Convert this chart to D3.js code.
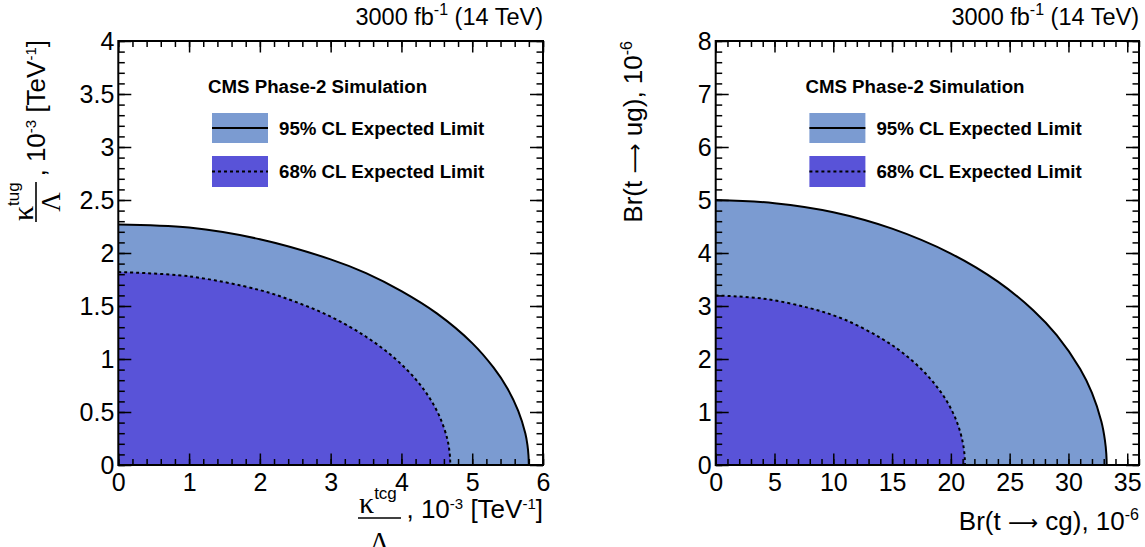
<!DOCTYPE html>
<html><head><meta charset="utf-8">
<script src="https://cdn.jsdelivr.net/npm/d3@7"></script>
<style>
body{margin:0;background:#fff}
text{font-family:"Liberation Sans",Arial,Helvetica,sans-serif;fill:#000}
.greek{font-family:"Liberation Serif","Times New Roman",serif}
.arrow{font-family:"DejaVu Sans",sans-serif}
</style>
</head><body><svg id="c" width="1145" height="547" xmlns="http://www.w3.org/2000/svg"></svg>
<script>
// ---------- data ----------
const leftXTicks = [0, 1, 2, 3, 4, 5, 6];
const leftYTicks = [0, 0.5, 1, 1.5, 2, 2.5, 3, 3.5, 4];
const rightXTicks = [0, 5, 10, 15, 20, 25, 30, 35];
const rightYTicks = [0, 1, 2, 3, 4, 5, 6, 7, 8];

// left panel: kappa_tcg/Lambda vs kappa_tug/Lambda (10^-3 TeV^-1)
const leftOuterX = [0, 1, 2, 3, 3.5, 4, 4.5, 5, 5.3, 5.5, 5.65, 5.75, 5.78, 5.795, 5.8];
const leftOuterY = [2.27, 2.24, 2.13, 1.94, 1.81, 1.64, 1.43, 1.15, 0.92, 0.72, 0.51, 0.30, 0.19, 0.09, 0];
const leftInnerX = [0, 1, 2, 2.5, 3, 3.5, 3.9, 4.2, 4.4, 4.55, 4.65, 4.68, 4.688, 4.69];
const leftInnerY = [1.82, 1.78, 1.65, 1.54, 1.40, 1.21, 1.01, 0.81, 0.63, 0.44, 0.24, 0.12, 0.05, 0];

// right panel: Br(t->cg) vs Br(t->ug) (10^-6)
const rightOuterX = [0, 5, 10, 15, 20, 24, 27, 29, 31, 32, 32.8, 33.1, 33.22, 33.25];
const rightOuterY = [5.0, 4.94, 4.77, 4.46, 3.99, 3.46, 2.92, 2.45, 1.81, 1.36, 0.82, 0.47, 0.21, 0];
const rightInnerX = [0, 4, 8, 11, 14, 16, 18, 19.5, 20.5, 21, 21.15, 21.19, 21.2];
const rightInnerY = [3.2, 3.14, 2.96, 2.74, 2.40, 2.10, 1.69, 1.26, 0.82, 0.44, 0.22, 0.10, 0];

const legendTitle = "CMS Phase-2 Simulation";
const legendLabels = ["95% CL Expected Limit", "68% CL Expected Limit"];
const color95 = "#7b9bd1";
const color68 = "#5953d8";

// ---------- drawing ----------
const svg = d3.select("#c");
const fmt = d3.format("~g");

function panel(cfg) {
  const x = d3.scaleLinear().domain(cfg.xDomain).range([cfg.left, cfg.right]);
  const y = d3.scaleLinear().domain(cfg.yDomain).range([cfg.bottom, cfg.top]);
  const g = svg.append("g");

  const area = d3.area().x(d => x(d[0])).y0(y(0)).y1(d => y(d[1])).curve(d3.curveCatmullRom.alpha(0.5));
  const line = d3.line().x(d => x(d[0])).y(d => y(d[1])).curve(d3.curveCatmullRom.alpha(0.5));
  const outer = cfg.outerX.map((v, i) => [v, cfg.outerY[i]]);
  const inner = cfg.innerX.map((v, i) => [v, cfg.innerY[i]]);

  g.append("path").attr("d", area(outer)).attr("fill", color95);
  g.append("path").attr("d", area(inner)).attr("fill", color68);
  g.append("path").attr("d", line(inner)).attr("fill", "none").attr("stroke", "#000")
    .attr("stroke-width", 2).attr("stroke-dasharray", "3,3");
  g.append("path").attr("d", line(outer)).attr("fill", "none").attr("stroke", "#000")
    .attr("stroke-width", 2);

  const xMinor = d3.range(cfg.xDomain[0], cfg.xDomain[1] + 1e-9, cfg.xMinorStep);
  const yMinor = d3.range(cfg.yDomain[0], cfg.yDomain[1] + 1e-9, cfg.yMinorStep);

  function ax(axisFn, scale, vals, size, labels, transform, pad) {
    const a = axisFn(scale).tickValues(vals).tickSize(-size).tickPadding(pad || 0)
      .tickFormat(labels ? fmt : "");
    const ag = g.append("g").attr("transform", transform).call(a);
    ag.select(".domain").remove();
    ag.selectAll(".tick line").attr("stroke", "#000").attr("stroke-width", 1.5);
    ag.selectAll("text").attr("font-family", null).style("font-size", "25px").attr("fill", "#000");
    return ag;
  }
  ax(d3.axisBottom, x, xMinor, 6, false, `translate(0,${cfg.bottom})`);
  ax(d3.axisBottom, x, cfg.xTicks, 11.5, true, `translate(0,${cfg.bottom})`, 8.5);
  ax(d3.axisTop, x, xMinor, 6, false, `translate(0,${cfg.top})`);
  ax(d3.axisTop, x, cfg.xTicks, 11.5, false, `translate(0,${cfg.top})`);
  ax(d3.axisLeft, y, yMinor, 6.5, false, `translate(${cfg.left},0)`);
  ax(d3.axisLeft, y, cfg.yTicks, 13, true, `translate(${cfg.left},0)`, 4);
  ax(d3.axisRight, y, yMinor, 6.5, false, `translate(${cfg.right},0)`);
  ax(d3.axisRight, y, cfg.yTicks, 13, false, `translate(${cfg.right},0)`);

  g.append("rect").attr("x", cfg.left).attr("y", cfg.top)
    .attr("width", cfg.right - cfg.left).attr("height", cfg.bottom - cfg.top)
    .attr("fill", "none").attr("stroke", "#000").attr("stroke-width", 2);

  const h = g.append("text").attr("x", cfg.right).attr("y", 25).attr("text-anchor", "end")
    .style("font-size", "23.5px");
  h.append("tspan").text("3000 fb");
  h.append("tspan").attr("dy", -10).style("font-size", "16px").text("-1");
  h.append("tspan").attr("dy", 10).text(" (14 TeV)");

  const ox = cfg.left - 118.3;
  g.append("text").attr("x", 208 + ox).attr("y", 93).style("font-size", "18.7px")
    .style("font-weight", "bold").text(legendTitle);
  const boxes = [{y: 113, h: 30, c: color95, dash: null}, {y: 156, h: 31, c: color68, dash: "3,3"}];
  boxes.forEach((b, i) => {
    g.append("rect").attr("x", 212 + ox).attr("y", b.y).attr("width", 56).attr("height", b.h).attr("fill", b.c);
    g.append("line").attr("x1", 212 + ox).attr("x2", 268 + ox).attr("y1", b.y + b.h / 2).attr("y2", b.y + b.h / 2)
      .attr("stroke", "#000").attr("stroke-width", 2).attr("stroke-dasharray", b.dash);
    g.append("text").attr("x", 279 + ox).attr("y", b.y + b.h / 2 + 6.7).style("font-size", "18.7px")
      .style("font-weight", "bold").text(legendLabels[i]);
  });
  return g;
}

panel({left: 118.3, right: 543, top: 41, bottom: 465, xDomain: [0, 6], yDomain: [0, 4],
  xMinorStep: 0.2, yMinorStep: 0.1, xTicks: leftXTicks, yTicks: leftYTicks,
  outerX: leftOuterX, outerY: leftOuterY, innerX: leftInnerX, innerY: leftInnerY});
panel({left: 715.7, right: 1139, top: 41, bottom: 465, xDomain: [0, 36], yDomain: [0, 8],
  xMinorStep: 1, yMinorStep: 0.2, xTicks: rightXTicks, yTicks: rightYTicks,
  outerX: rightOuterX, outerY: rightOuterY, innerX: rightInnerX, innerY: rightInnerY});

// ---------- axis titles ----------
function unitText(g, xEnd, yBase, exp) {
  const t = g.append("text").attr("x", xEnd).attr("y", yBase).attr("text-anchor", "end").style("font-size", "26px");
  t.append("tspan").text(", 10");
  t.append("tspan").attr("dy", -9).style("font-size", "15px").text(exp);
  t.append("tspan").attr("dy", 9).text(" [TeV");
  t.append("tspan").attr("dy", -9).style("font-size", "15px").text("-1");
  t.append("tspan").attr("dy", 9).text("]");
}
function fraction(g, x0, x1, barY, kBase, lBase, sup) {
  g.append("line").attr("x1", x0).attr("x2", x1).attr("y1", barY).attr("y2", barY)
    .attr("stroke", "#000").attr("stroke-width", 1.6);
  const k = g.append("text").attr("x", x0 + 1).attr("y", kBase).style("font-size", "30px");
  k.append("tspan").attr("class", "greek").text("κ");
  k.append("tspan").attr("dy", -14).style("font-size", "17px").text(sup);
  g.append("text").attr("class", "greek").attr("x", (x0 + x1) / 2).attr("y", lBase)
    .attr("text-anchor", "middle").style("font-size", "27px").text("Λ");
}
function arrowTitle(sel, pre, post, exp) {
  sel.append("tspan").text(pre);
  sel.append("tspan").attr("class", "arrow").style("font-size", "21px").text("\u27F6");
  sel.append("tspan").text(post);
  sel.append("tspan").attr("dy", -10).style("font-size", "16px").text(exp);
}

// left x title
const lx = svg.append("g");
fraction(lx, 358, 401, 518, 512.5, 551, "tcg");
unitText(lx, 543, 518, "-3");

// left y title (rotated)
const ly = svg.append("g").attr("transform", "rotate(-90)");
fraction(ly, -222, -182, 36, 33, 60, "tug");
unitText(ly, -40, 45, "-3");

// right x title
const rx = svg.append("text").attr("x", 1139).attr("y", 530).attr("text-anchor", "end").style("font-size", "26px");
arrowTitle(rx, "Br(t ", " cg), 10", "-6");

// right y title
const ry = svg.append("text").attr("transform", "rotate(-90)").attr("x", -41).attr("y", 642)
  .attr("text-anchor", "end").style("font-size", "26px");
arrowTitle(ry, "Br(t ", " ug), 10", "-6");
</script>
</body></html>
